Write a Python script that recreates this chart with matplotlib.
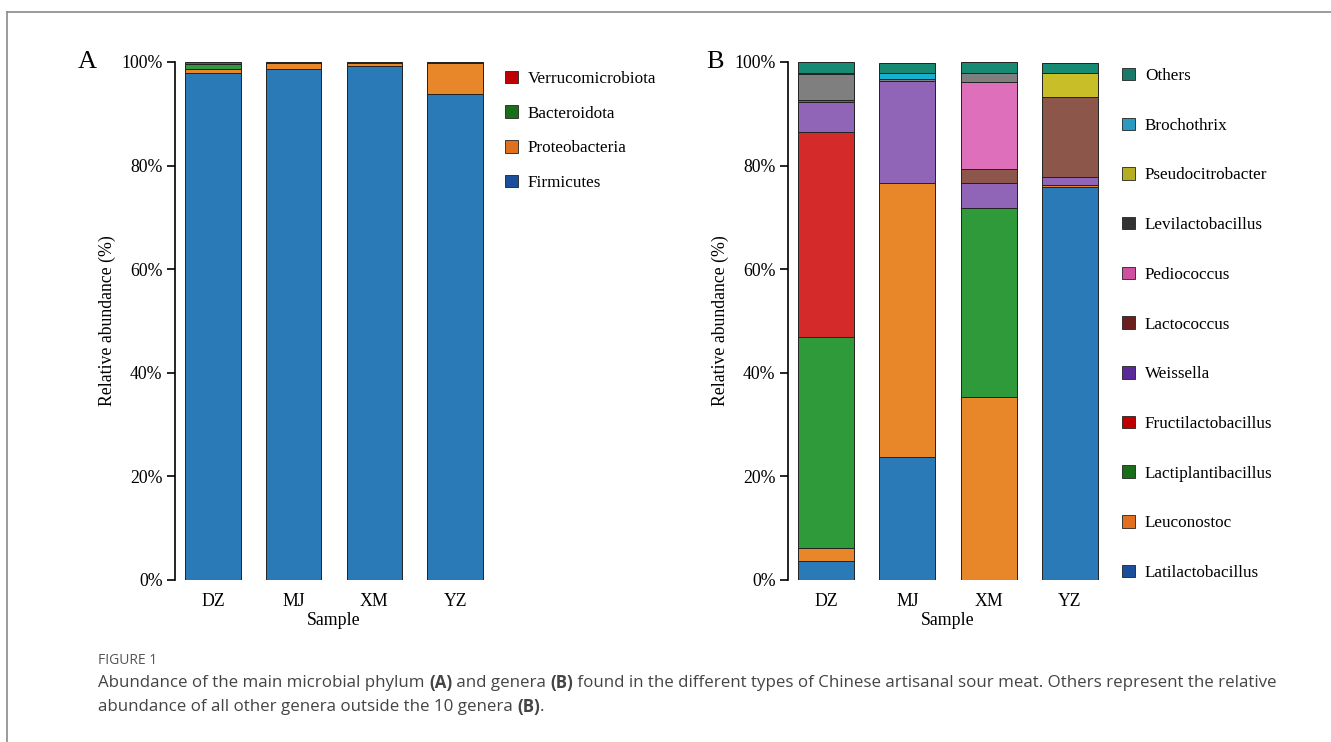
import matplotlib.pyplot as plt
import numpy as np
from matplotlib.patches import Patch
from matplotlib.lines import Line2D

# ---------------- data ----------------
samples = ['DZ', 'MJ', 'XM', 'YZ']

# panel A: phylum level (%)
phylum_names = ['Firmicutes', 'Proteobacteria', 'Bacteroidota', 'Verrucomicrobiota']
firmicutes = [97.9, 98.7, 99.3, 93.8]
proteobacteria = [0.7, 1.2, 0.6, 6.1]
bacteroidota = [1.0, 0.05, 0.05, 0.05]
verrucomicrobiota = [0.4, 0.05, 0.05, 0.05]

# panel B: genus level (%)
genus_names = ['Latilactobacillus', 'Leuconostoc', 'Lactiplantibacillus',
               'Fructilactobacillus', 'Weissella', 'Lactococcus', 'Pediococcus',
               'Levilactobacillus', 'Pseudocitrobacter', 'Brochothrix', 'Others']
latilactobacillus = [3.7, 23.7, 0.0, 75.9]
leuconostoc = [2.4, 52.9, 35.3, 0.3]
lactiplantibacillus = [40.8, 0.0, 36.5, 0.0]
fructilactobacillus = [39.5, 0.0, 0.0, 0.0]
weissella = [5.9, 19.7, 4.8, 1.6]
lactococcus = [0.3, 0.0, 2.8, 15.5]
pediococcus = [0.0, 0.0, 16.7, 0.0]
levilactobacillus = [5.0, 0.4, 1.8, 0.0]
pseudocitrobacter = [0.0, 0.0, 0.0, 4.5]
brochothrix = [0.3, 1.1, 0.0, 0.0]
others = [2.1, 2.1, 2.1, 2.1]

# ---------------- style ----------------
phylum_colors = ['#2a7ab8', '#e8872a', '#2f9a3a', '#d42a2a']
phylum_legend_colors = ['#1b4f9c', '#e0701e', '#1a6e1a', '#c00000']
genus_colors = ['#2a7ab8', '#e8872a', '#2f9a3a', '#d42a2a', '#9065b8',
                '#8c564b', '#de70bb', '#7f7f7f', '#c8be28', '#19b0cf', '#178a74']
genus_legend_colors = ['#1b4f9c', '#e0701e', '#1a6e1a', '#c00000', '#5a2a9a',
                       '#6b1f1f', '#d050a0', '#333333', '#b5ae20', '#2a9ac0', '#1a7a6a']

SERIF = 'Liberation Serif'
plt.rcParams['font.family'] = SERIF

W, H = 1331, 742
fig = plt.figure(figsize=(W / 100, H / 100), dpi=100)


def px_axes(left, top, right, bottom):
    return fig.add_axes([left / W, 1 - bottom / H, (right - left) / W, (bottom - top) / H])


def style_axes(ax):
    x = np.arange(len(samples))
    ax.set_xlim(-0.47, len(samples) - 1 + 0.47)
    ax.set_ylim(0, 100)
    for s in ['top', 'right', 'bottom']:
        ax.spines[s].set_visible(False)
    ax.spines['left'].set_linewidth(1.2)
    ax.set_yticks([0, 20, 40, 60, 80, 100])
    ax.set_yticklabels([f'{v}%' for v in [0, 20, 40, 60, 80, 100]], fontsize=12.8)
    ax.tick_params(axis='y', length=6, width=1.2, pad=3)
    ax.set_xticks(x)
    ax.set_xticklabels(samples, fontsize=12.8)
    ax.tick_params(axis='x', length=0, pad=9)
    ax.set_xlabel('Sample', fontsize=12.8, labelpad=2)
    ax.set_ylabel('Relative abundance (%)', fontsize=12.8, labelpad=4)


def stacked(ax, series, colors):
    x = np.arange(len(samples))
    bottom = np.zeros(len(samples))
    for vals, c in zip(series, colors):
        vals = np.array(vals)
        ax.bar(x, vals, bottom=bottom, width=0.69, color=c,
               edgecolor='#222222', linewidth=0.7)
        bottom += vals


# ---------------- panel A ----------------
axA = px_axes(175, 62, 493, 580)
stacked(axA, [firmicutes, proteobacteria, bacteroidota, verrucomicrobiota], phylum_colors)
style_axes(axA)
handlesA = [Patch(facecolor=c, edgecolor='#222222', linewidth=0.6)
            for c in phylum_legend_colors]
legA = fig.legend(handlesA[::-1], phylum_names[::-1],
                  loc='upper left', bbox_to_anchor=(498 / W, 1 - 64 / H),
                  frameon=False, fontsize=12.3, handlelength=0.75, handleheight=0.75,
                  handletextpad=0.6, labelspacing=1.08, borderaxespad=0)
fig.text(78 / W, 1 - 62 / H, 'A', fontsize=19, ha='left', va='center')

# ---------------- panel B ----------------
axB = px_axes(788, 62, 1108, 580)
genus_series = [latilactobacillus, leuconostoc, lactiplantibacillus, fructilactobacillus,
                weissella, lactococcus, pediococcus, levilactobacillus,
                pseudocitrobacter, brochothrix, others]
stacked(axB, genus_series, genus_colors)
style_axes(axB)
handlesB = [Patch(facecolor=c, edgecolor='#222222', linewidth=0.6)
            for c in genus_legend_colors]
legB = fig.legend(handlesB[::-1], genus_names[::-1],
                  loc='upper left', bbox_to_anchor=(1115 / W, 1 - 61 / H),
                  frameon=False, fontsize=12.3, handlelength=0.75, handleheight=0.75,
                  handletextpad=0.6, labelspacing=1.96, borderaxespad=0)
fig.text(706 / W, 1 - 62 / H, 'B', fontsize=19, ha='left', va='center')

# ---------------- frame lines ----------------
fig.add_artist(Line2D([7 / W, 1], [1 - 12 / H, 1 - 12 / H], color='#8a8a8a', lw=1.2))
fig.add_artist(Line2D([7 / W, 7 / W], [0, 1 - 12 / H], color='#8a8a8a', lw=1.2))

# ---------------- caption ----------------
CAP = 'Open Sans'
fig.text(98 / W, 1 - 660 / H, 'FIGURE 1', fontsize=10, color='#555555',
         family=CAP, va='center')

renderer = fig.canvas.get_renderer()


def draw_segments(x0, y, segments):
    x = x0
    for txt, bold in segments:
        t = fig.text(x / W, 1 - y / H, txt, fontsize=12.15, color='#444444', family=CAP,
                     weight='bold' if bold else 'normal', va='center', ha='left')
        bb = t.get_window_extent(renderer)
        x += bb.width


draw_segments(98, 683, [('Abundance of the main microbial phylum ', False), ('(A)', True),
                        (' and genera ', False), ('(B)', True),
                        (' found in the different types of Chinese artisanal sour meat. '
                         'Others represent the relative', False)])
draw_segments(98, 707, [('abundance of all other genera outside the 10 genera ', False),
                        ('(B)', True), ('.', False)])

fig.savefig('out.png', dpi=100)
